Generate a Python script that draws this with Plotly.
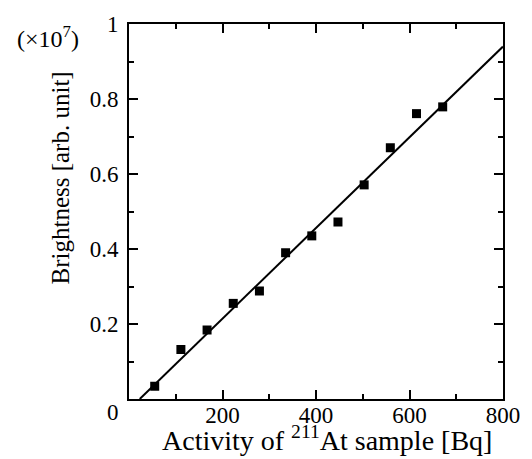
import plotly.graph_objects as go

activity = [55, 111, 167, 223, 279, 335, 391, 447, 503, 559, 615, 671]
brightness = [0.034, 0.132, 0.184, 0.255, 0.288, 0.390, 0.435, 0.472, 0.571, 0.670, 0.761, 0.779]
fit_x = [23, 800]
fit_y = [0.0, 0.940]

x_ticks = [200, 400, 600, 800]
x_tick_labels = ["200", "400", "600", "800"]
y_ticks = [0.2, 0.4, 0.6, 0.8, 1.0]
y_tick_labels = ["0.2", "0.4", "0.6", "0.8", "1"]

FONT = "Liberation Serif"

fig = go.Figure()
fig.add_trace(go.Scatter(x=fit_x, y=fit_y, mode="lines",
                         line=dict(color="black", width=2), showlegend=False))
fig.add_trace(go.Scatter(x=activity, y=brightness, mode="markers",
                         marker=dict(symbol="square", size=9, color="black"),
                         showlegend=False))

axis_common = dict(showline=True, linecolor="black", linewidth=2, mirror="ticks",
                   ticks="inside", ticklen=9, tickwidth=2, tickcolor="black",
                   showgrid=False, zeroline=False,
                   tickfont=dict(family=FONT, size=23, color="black"))

fig.update_xaxes(range=[0, 800], tickvals=x_ticks, ticktext=x_tick_labels,
                 minor=dict(dtick=100, ticks="inside", ticklen=5, tickwidth=2, tickcolor="black"),
                 ticklabelstandoff=-6,
                 **axis_common)
fig.update_yaxes(range=[0, 1], tickvals=y_ticks, ticktext=y_tick_labels,
                 minor=dict(dtick=0.1, ticks="inside", ticklen=5, tickwidth=2, tickcolor="black"),
                 ticklabelstandoff=4,
                 **axis_common)

# axis titles
fig.add_annotation(text="Activity of <sup>211</sup>At sample [Bq]", x=424, y=0,
                   xref="x", yref="paper", showarrow=False, xanchor="center", yanchor="top",
                   yshift=-20, font=dict(family=FONT, size=28, color="black"))
fig.add_annotation(text="Brightness [arb. unit]", x=0, y=0.588, xref="paper", yref="y",
                   showarrow=False, textangle=-90, xanchor="center", yanchor="middle",
                   xshift=-69, font=dict(family=FONT, size=25, color="black"))

fig.add_annotation(text="0", x=0, y=0, xref="x", yref="y", showarrow=False,
                   xanchor="right", yanchor="top", xshift=-8, yshift=1,
                   font=dict(family=FONT, size=23, color="black"))
fig.add_annotation(text="(×10<sup>7</sup>)", x=0, y=1, xref="paper", yref="y",
                   showarrow=False, xanchor="right", yanchor="middle", xshift=-48, yshift=-13,
                   font=dict(family=FONT, size=24, color="black"))

fig.update_layout(width=532, height=459, plot_bgcolor="white", paper_bgcolor="white",
                  margin=dict(l=129, r=25, t=20, b=60))

fig.write_html("out.html", post_script="document.body.style.margin='0px';",
               config={"displayModeBar": False})
